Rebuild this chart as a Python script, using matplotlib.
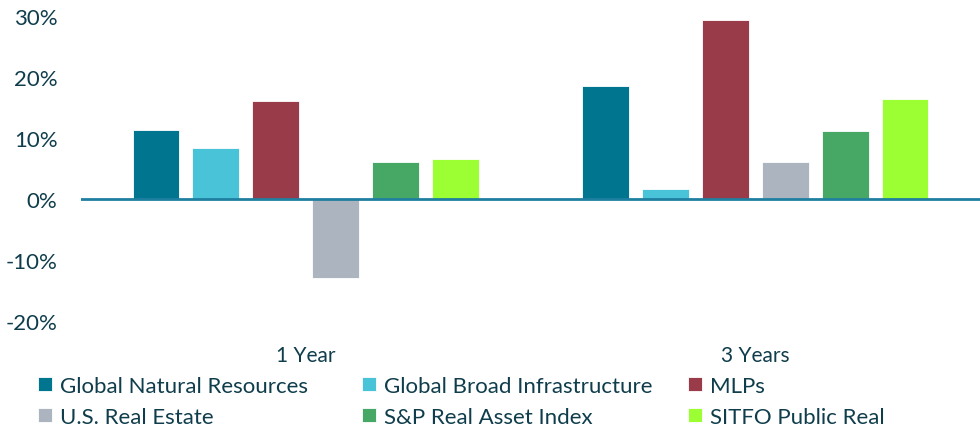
import matplotlib
matplotlib.use("Agg")
import matplotlib.pyplot as plt
import numpy as np

plt.rcParams["font.family"] = ["Lato", "DejaVu Sans"]

periods = ["1 Year", "3 Years"]
series = ["Global Natural Resources", "Global Broad Infrastructure", "MLPs",
          "U.S. Real Estate", "S&P Real Asset Index", "SITFO Public Real"]
values = {
    "Global Natural Resources":    [11.3, 18.6],
    "Global Broad Infrastructure": [8.4, 1.6],
    "MLPs":                        [16.1, 29.4],
    "U.S. Real Estate":            [-12.9, 6.1],
    "S&P Real Asset Index":        [6.1, 11.2],
    "SITFO Public Real":           [6.6, 16.4],
}
colors = ["#00758f", "#48c3d8", "#9a3b4a", "#abb4bf", "#46a864", "#9bff33"]
yticks = [-20, -10, 0, 10, 20, 30]

TXT = "#0f3d4c"

fig = plt.figure(figsize=(9.8, 4.27), dpi=100)
ax = fig.add_axes([81 / 980, 1 - 322 / 427, 1 - 81 / 980, (322 - 17) / 427])

x = np.arange(len(periods))
step, width = 0.1333, 0.104
handles = []
for i, (name, c) in enumerate(zip(series, colors)):
    off = (i - (len(series) - 1) / 2) * step
    b = ax.bar(x + off, values[name], width, color=c, edgecolor="white",
               linewidth=0.6, label=name, zorder=2)
    handles.append(b)

ax.axhline(0, color="#1f7fa0", lw=2, zorder=3)
ax.set_xlim(-0.5, 1.5)
ax.set_ylim(-20, 30)
ax.set_yticks(yticks)
ax.set_yticklabels([f"{v}%" for v in yticks])
ax.set_xticks(x)
ax.set_xticklabels(periods)
ax.tick_params(axis="y", length=0, pad=17, labelsize=16, labelcolor=TXT)
ax.tick_params(axis="x", length=0, pad=17.5, labelsize=15, labelcolor=TXT)
for s in ax.spines.values():
    s.set_visible(False)

# legend: three fixed columns, two rows each
col_x = [38, 362, 688]
for k in range(3):
    hs = [handles[k], handles[k + 3]]
    fig.legend(hs, [series[k], series[k + 3]], loc="upper left",
               bbox_to_anchor=(col_x[k] / 980, 1 - 377 / 427), ncol=1,
               frameon=False, fontsize=16, labelcolor=TXT,
               handlelength=0.62, handleheight=0.62, handletextpad=0.35,
               labelspacing=0.5, borderpad=0, borderaxespad=0)

fig.savefig("out.png", dpi=100)
